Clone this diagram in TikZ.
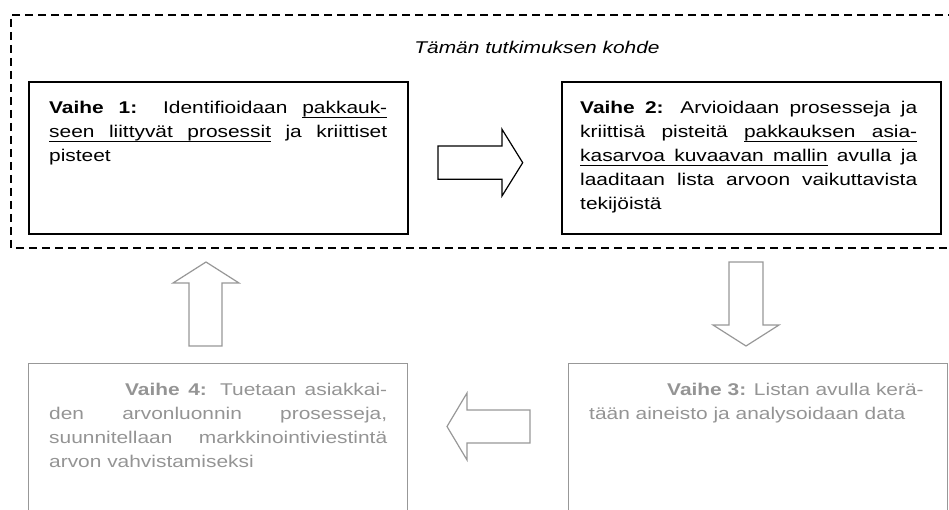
\documentclass[tikz,border=0pt]{standalone}
\usepackage{fontspec}
\setmainfont{Liberation Sans}[FakeStretch=1.23]
\definecolor{fadegray}{RGB}{148,148,148}
\definecolor{fadeline}{RGB}{152,152,152}
% underlined word, and an underlined interword space that stretches with the line
\newcommand{\ulword}[1]{{\setbox0\hbox{#1}\rlap{\rule[-4pt]{\wd0}{0.9pt}}\box0}}
\newcommand{\ulgap}{\leaders\hrule height -3.1pt depth 4pt\hskip\fontdimen2\font plus\fontdimen3\font minus\fontdimen4\font\relax}

\begin{document}
\begin{tikzpicture}[x=1pt,y=-1pt,
  stagebox/.style={draw=black, line width=1.6pt, rectangle, inner sep=0pt,
    anchor=north west, minimum width=379pt, minimum height=152pt},
  fadebox/.style={draw=fadeline, line width=1.2pt, rectangle, inner sep=0pt,
    anchor=north west, minimum width=379pt, minimum height=200pt},
  stagetext/.style={inner sep=0pt, anchor=base west, text width=338pt,
    align=justify, font=\fontsize{17}{24.1}\selectfont},
  blockarrow/.style={line width=1.2pt, line join=miter, fill=white},
  frame/.style={line width=1.4pt, dash pattern=on 8pt off 5pt}
]
\useasboundingbox (0,0) rectangle (949,510);
\clip (0,0) rectangle (949,510);

% dashed frame around the studied part (open on the right)
\draw[frame] (956,15) -- (11,15) -- (11,248) -- (956,248);
\node[anchor=base, inner sep=0pt, font=\fontsize{17}{20}\selectfont\itshape]
  (focus) at (537,53.3) {Tämän tutkimuksen kohde};

% stage 1
\node[stagebox] (s1) at (28,81) {};
\node[stagetext] (t1) at (49,113.6)
  {\textbf{Vaihe 1:} Identifioidaan \ulword{pakkauk-}\linebreak
   \ulword{seen}\ulgap\ulword{liittyvät}\ulgap\ulword{prosessit} ja kriittiset\linebreak
   pisteet};

% stage 2
\node[stagebox] (s2) at (561,81) {};
\node[stagetext, text width=337pt] (t2) at (580,113.6)
  {\textbf{Vaihe 2:} Arvioidaan prosesseja ja\linebreak
   kriittisä pisteitä \ulword{pakkauksen}\ulgap\ulword{asia-}\linebreak
   \ulword{kasarvoa}\ulgap\ulword{kuvaavan}\ulgap\ulword{mallin} avulla ja\linebreak
   laaditaan lista arvoon vaikuttavista\linebreak
   tekijöistä};

% stage 3
\node[fadebox] (s3) at (568,363) {};
\node[stagetext, text=fadegray] (t3) at (589,395.5)
  {\hspace*{78pt}\textbf{Vaihe 3:} Listan avulla kerä-\\
   tään aineisto ja analysoidaan data};

% stage 4
\node[fadebox] (s4) at (28,363) {};
\node[stagetext, text=fadegray] (t4) at (49,395.5)
  {\hspace*{76pt}\textbf{Vaihe 4:} Tuetaan asiakkai-\linebreak
   den arvonluonnin prosesseja,\linebreak
   suunnitellaan markkinointiviestintä\linebreak
   arvon vahvistamiseksi};

% block arrows between the stages
\draw[blockarrow, draw=black]
  (438,146) -- (502,146) -- (502,129.3) -- (522.7,162.7) -- (502,196)
  -- (502,179.3) -- (438,179.3) -- cycle;
\draw[blockarrow, draw=fadeline]
  (729,262) -- (729,325) -- (713,325) -- (746,346) -- (779,325)
  -- (763,325) -- (763,262) -- cycle;
\draw[blockarrow, draw=fadeline]
  (530,410) -- (467,410) -- (467,393) -- (447,426.5) -- (467,460)
  -- (467,443) -- (530,443) -- cycle;
\draw[blockarrow, draw=fadeline]
  (189,346) -- (189,283) -- (173,283) -- (206,262) -- (239,283)
  -- (222,283) -- (222,346) -- cycle;
\end{tikzpicture}
\end{document}
